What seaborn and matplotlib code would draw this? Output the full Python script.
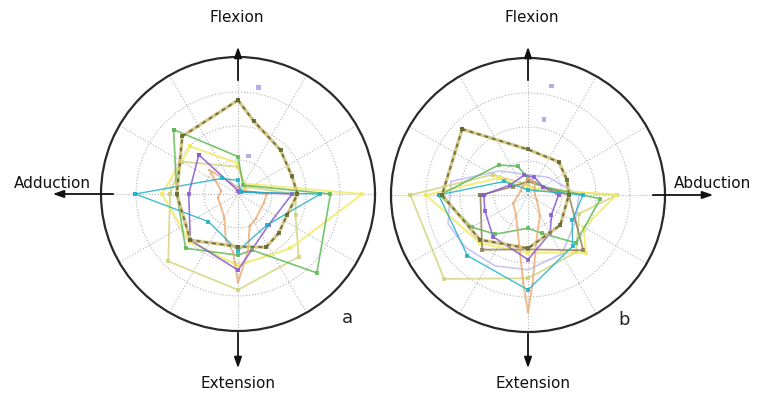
import numpy as np
import matplotlib
matplotlib.use("Agg")
import matplotlib.pyplot as plt
import seaborn as sns

sns.set_style("white")

# angle in degrees (0 = right, counter-clockwise), radius in ring units (outer circle = 4)
# ---- panel a ----
a_olive_ang = [90, 78, 46, 18, 0, -23, -44, -62, -90, -136, 180, 134, 90]
a_olive_r = [2.76, 2.2, 1.8, 1.67, 1.75, 1.57, 1.66, 1.77, 1.55, 1.95, 1.8, 2.36, 2.76]

a_green_ang = [135, 90, 60, 0, -45, -76, -90, -134, 180, 135]
a_green_r = [2.68, 1.1, 0.3, 2.72, 3.28, 1.7, 1.8, 2.22, 1.8, 2.68]

a_cyan_ang = [180, 136, 90, 30, 0, -47, -90, -137, 180]
a_cyan_r = [3.02, 0.66, 0.4, 0.1, 2.42, 1.25, 1.67, 1.19, 3.02]

a_purple_ang = [135, 90, 45, 0, -45, -90, -136, 180, 135]
a_purple_r = [1.63, 0.1, 0.1, 1.59, 1.28, 2.24, 1.95, 1.45, 1.63]

a_yellow_ang = [135, 90, 60, 0, -46, -90, -135, 180, 135]
a_yellow_r = [1.98, 0.9, 0.35, 3.65, 2.22, 2.1, 2.0, 2.24, 1.98]

a_khaki_ang = [180, -136, -90, -46, -20, 0, 45, 90, 150, 180]
a_khaki_r = [2.0, 2.85, 2.82, 2.57, 1.8, 1.7, 0.3, 0.8, 1.9, 2.0]

a_orange_ang = [90, 140, 170, 190, 240, 255, 265, 270, 280, 290, 305, 340, 0, 30, 90]
a_orange_r = [0.2, 1.1, 0.5, 0.6, 0.8, 1.4, 1.7, 2.6, 1.7, 1.0, 0.9, 0.8, 0.85, 0.2, 0.2]

a_marks_ang = [79, 75]
a_marks_r = [3.18, 1.16]

# ---- panel b ----
b_olive_ang = [135, 90, 47, 21, 0, -43, -90, -137, 180, 135]
b_olive_r = [2.74, 1.34, 1.33, 1.23, 1.2, 1.3, 1.57, 1.93, 2.53, 2.74]

b_green_ang = [180, 134, 110, 90, 30, -3, -45, -70, -90, -130, -150, 180]
b_green_r = [2.6, 1.23, 0.9, 0.5, 0.5, 2.13, 1.99, 1.2, 0.98, 1.5, 1.9, 2.6]

b_cyan_ang = [180, 150, 90, 0, -30, -49, -90, -135, 180]
b_cyan_r = [2.63, 0.8, 0.15, 1.62, 1.5, 2.0, 2.79, 2.52, 2.63]

b_khaki_ang = [180, -135, -90, -50, -20, 0, 30, 90, 150, 180]
b_khaki_r = [3.46, 3.49, 2.45, 2.2, 1.6, 2.62, 0.3, 0.3, 1.2, 3.46]

b_yellow_ang = [180, 150, 90, 0, -30, -45, -90, -135, 180]
b_yellow_r = [3.0, 1.0, 0.2, 2.6, 1.9, 2.4, 1.7, 2.0, 3.0]

b_purple_ang = [180, 150, 100, 70, 30, 0, -40, -60, -90, -130, -160, 180]
b_purple_r = [1.3, 0.6, 0.6, 0.55, 0.5, 0.9, 0.9, 1.3, 1.9, 1.6, 1.35, 1.3]

b_lavender_ang = [170, 200, 220, 245, 270, 300, 330, 360, 400, 450, 500, 530]
b_lavender_r = [2.3, 2.5, 2.4, 2.3, 2.2, 2.0, 1.6, 1.5, 0.8, 0.6, 1.1, 2.3]

b_orange_ang = [90, 120, 150, 210, 240, 260, 267, 270, 273, 280, 300, 330, 360, 420, 450]
b_orange_r = [0.5, 0.3, 0.25, 0.5, 0.7, 1.5, 2.6, 3.45, 2.6, 1.4, 0.7, 0.3, 0.2, 0.4, 0.5]

b_dark_ang = [180, -130, -90, -45, 0, 90, 150, 180]
b_dark_r = [1.4, 2.1, 1.6, 2.3, 1.2, 0.4, 0.5, 1.4]

b_marks_ang = [78, 78]
b_marks_r = [3.28, 2.26]

C_OLIVE = "#5f6630"
C_KHAKI_DASH = "#d2bf78"
C_GREEN = "#5fba5a"
C_CYAN = "#1fb0c8"
C_PURPLE = "#8a5ad0"
C_YELLOW = "#f2ea60"
C_KHAKI = "#cdd070"
C_ORANGE = "#eba46a"
C_LAV = "#b8b4f0"
C_DARK = "#8a7c50"

fig = plt.figure(figsize=(7.58, 4.03), dpi=100)

W, H = 758, 403


def polar_ax(cx, cy, rad):
    ax = fig.add_axes([(cx - rad) / W, (H - cy - rad) / H, 2 * rad / W, 2 * rad / H],
                      projection="polar")
    ax.set_theta_zero_location("E")
    ax.set_ylim(0, 4.03)
    ax.set_yticks([1, 2, 3])
    ax.set_yticklabels([])
    ax.set_xticks(np.deg2rad(np.arange(0, 360, 30)))
    ax.set_xticklabels([])
    ax.grid(True, linestyle=":", color="#b4b4b4", linewidth=0.8)
    ax.spines["polar"].set_linewidth(1.6)
    ax.spines["polar"].set_color("#2a2a2a")
    ax.set_facecolor("white")
    return ax


def trace(ax, ang, r, color, lw=1.1, ms=2.6, alpha=0.85, **kw):
    sns.lineplot(x=np.deg2rad(ang), y=r, ax=ax, sort=False, estimator=None,
                 color=color, linewidth=lw, marker="s", markersize=ms,
                 markeredgewidth=0, alpha=alpha, **kw)


ax1 = polar_ax(238, 194, 137)
trace(ax1, a_khaki_ang, a_khaki_r, C_KHAKI, lw=1.3, alpha=0.75)
trace(ax1, a_yellow_ang, a_yellow_r, C_YELLOW, lw=1.5, alpha=0.8)
trace(ax1, a_green_ang, a_green_r, C_GREEN, lw=1.2)
trace(ax1, a_orange_ang, a_orange_r, C_ORANGE, lw=1.4, ms=2, alpha=0.75)
trace(ax1, a_purple_ang, a_purple_r, C_PURPLE, lw=1.2)
trace(ax1, a_cyan_ang, a_cyan_r, C_CYAN, lw=1.0)
trace(ax1, a_olive_ang, a_olive_r, C_KHAKI_DASH, lw=2.4, ms=0)
trace(ax1, a_olive_ang, a_olive_r, C_OLIVE, lw=1.4, ms=3, linestyle=(0, (2, 2)))
sns.scatterplot(x=np.deg2rad(a_marks_ang), y=a_marks_r, ax=ax1, marker="s", s=12,
                color="#b0b0e4", edgecolor="none")

ax2 = polar_ax(528, 195, 137)
trace(ax2, b_lavender_ang, b_lavender_r, C_LAV, lw=1.2, ms=0, alpha=0.75)
trace(ax2, b_khaki_ang, b_khaki_r, C_KHAKI, lw=1.3, alpha=0.75)
trace(ax2, b_yellow_ang, b_yellow_r, C_YELLOW, lw=1.5, alpha=0.8)
trace(ax2, b_dark_ang, b_dark_r, C_DARK, lw=1.3, alpha=0.8)
trace(ax2, b_green_ang, b_green_r, C_GREEN, lw=1.2)
trace(ax2, b_orange_ang, b_orange_r, C_ORANGE, lw=1.4, ms=2, alpha=0.75)
trace(ax2, b_purple_ang, b_purple_r, C_PURPLE, lw=1.2)
trace(ax2, b_cyan_ang, b_cyan_r, C_CYAN, lw=1.0)
trace(ax2, b_olive_ang, b_olive_r, C_KHAKI_DASH, lw=2.4, ms=0)
trace(ax2, b_olive_ang, b_olive_r, C_OLIVE, lw=1.4, ms=3, linestyle=(0, (2, 2)))
sns.scatterplot(x=np.deg2rad(b_marks_ang), y=b_marks_r, ax=ax2, marker="s", s=12,
                color="#b0b0e4", edgecolor="none")

for ax in (ax1, ax2):
    ax.set_xlabel("")
    ax.set_ylabel("")


# direction arrows (figure pixels, origin bottom-left)
def arrow(x0, y0, x1, y1):
    fig.add_artist(matplotlib.patches.FancyArrowPatch(
        (x0 / W, y0 / H), (x1 / W, y1 / H), transform=fig.transFigure,
        arrowstyle="-|>,head_length=0.8,head_width=0.28", mutation_scale=8,
        color="#111111", linewidth=1.3))


arrow(238, 320, 238, 359)
arrow(238, 73, 238, 32)
arrow(116, 209, 50, 209)
arrow(528, 320, 528, 359)
arrow(528, 72, 528, 32)
arrow(650, 208, 716, 208)

txt = dict(fontsize=11, color="#111111", ha="center", va="center")
fig.text(237 / W, 386 / H, "Flexion", **txt)
fig.text(532 / W, 386 / H, "Flexion", **txt)
fig.text(238 / W, 19 / H, "Extension", **txt)
fig.text(533 / W, 20 / H, "Extension", **txt)
fig.text(52 / W, 219 / H, "Adduction", **txt)
fig.text(713 / W, 219 / H, "Abduction", **txt)
fig.text(347 / W, 85 / H, "a", fontsize=13, ha="center", va="center")
fig.text(624 / W, 83 / H, "b", fontsize=13, ha="center", va="center")

fig.savefig("out.png", dpi=100)
